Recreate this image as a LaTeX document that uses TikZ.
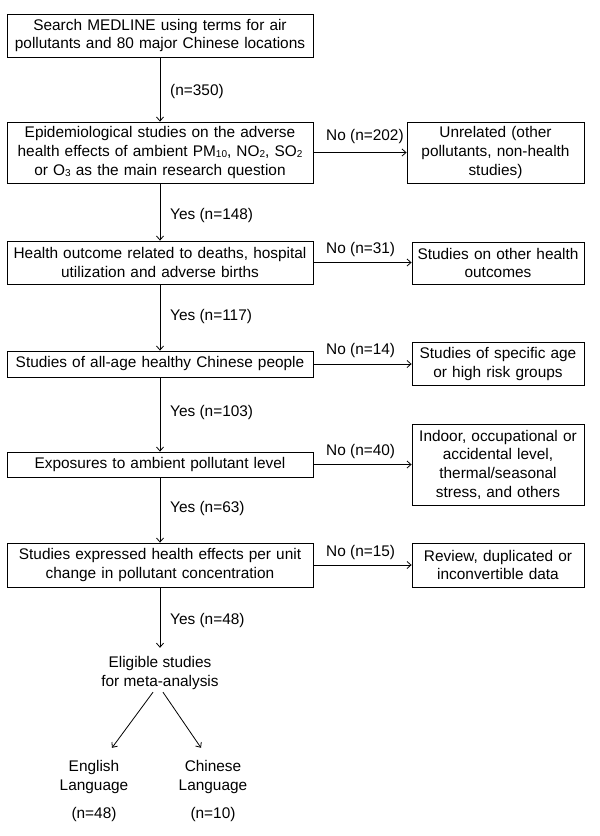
\documentclass[tikz,border=0pt]{standalone}
\usepackage{fontspec}
\setmainfont{Liberation Sans}
\usetikzlibrary{arrows.meta}
\newcommand\mysub[1]{\raisebox{-1pt}{\fontsize{10}{10}\selectfont #1}}
\tikzset{
  box/.style={draw, line width=0.8pt, align=center, inner sep=0pt},
  mainbox/.style={box, minimum width=306pt, text width=300pt},
  sidebox/.style={box, minimum width=172pt, text width=168pt},
  lbl/.style={anchor=west, inner sep=0pt},
  plain/.style={align=center, inner sep=0pt},
  arr/.style={line width=0.8pt, -{Straight Barb[length=4pt,width=7pt]}}
}
\begin{document}
\begin{tikzpicture}[x=1pt,y=-1pt,font=\fontsize{15.4}{18.7}\selectfont]
\useasboundingbox (0,0) rectangle (600,836);
% main column
\node[mainbox, minimum height=43pt] (b1) at (160,35.5) {Search MEDLINE using terms for air\\pollutants and 80 major Chinese locations};
\node[mainbox, minimum height=61pt] (b2) at (160,152.5) {Epidemiological studies on the adverse\\health effects of ambient PM\mysub{10}, NO\mysub{2}, SO\mysub{2}\\or O\mysub{3} as the main research question};
\node[mainbox, minimum height=43pt] (b3) at (160,262.5) {Health outcome related to deaths, hospital\\utilization and adverse births};
\node[mainbox, minimum height=26pt] (b4) at (160,364) {Studies of all-age healthy Chinese people};
\node[mainbox, minimum height=25pt] (b5) at (160,464.5) {Exposures to ambient pollutant level};
\node[mainbox, minimum height=44pt] (b6) at (160,565) {Studies expressed health effects per unit\\change in pollutant concentration};
\node[plain, minimum height=50pt] (elig) at (160,673) {Eligible studies\\for meta-analysis};
\node[plain, minimum height=58pt] (eng) at (94,777) {English\\Language};
\node[plain, minimum height=58pt] (chi) at (213,777) {Chinese\\Language};
\node[plain] (engn) at (94,815) {(n=48)};
\node[plain] (chin) at (213,815) {(n=10)};
% side column
\node[box, minimum width=177pt, text width=170pt, minimum height=61pt] (r2) at (495.5,152.5) {Unrelated (other\\pollutants, non-health\\studies)};
\node[sidebox, minimum height=42pt] (r3) at (498,263) {Studies on other health\\outcomes};
\node[sidebox, minimum height=43pt] (r4) at (498,364) {Studies of specific age\\or high risk groups};
\node[sidebox, minimum height=81pt] (r5) at (498,464.5) {Indoor, occupational or\\accidental level,\\thermal/seasonal\\stress, and others};
\node[sidebox, minimum height=44pt] (r6) at (498,565) {Review, duplicated or\\inconvertible data};
% vertical arrows
\draw[arr] (b1) -- (b2);
\draw[arr] (b2) -- (b3);
\draw[arr] (b3) -- (b4);
\draw[arr] (b4) -- (b5);
\draw[arr] (b5) -- (b6);
\draw[arr] (b6.south) -- (elig.north);
\draw[arr] ([xshift=-7pt,yshift=6pt]elig.south) -- ([xshift=18pt]eng.north);
\draw[arr] ([xshift=3pt,yshift=6pt]elig.south) -- ([xshift=-12pt]chi.north);
% horizontal arrows
\draw[arr] (b2.east) -- (r2.west);
\draw[arr] (b3.east) -- (r3.west |- b3.east);
\draw[arr] (b4.east) -- (r4.west |- b4.east);
\draw[arr] (b5.east) -- (r5.west |- b5.east);
\draw[arr] (b6.east) -- (r6.west |- b6.east);
% yes labels
\node[lbl] (y1) at (170,92) {(n=350)};
\node[lbl] (y2) at (170,216) {Yes (n=148)};
\node[lbl] (y3) at (170,317) {Yes (n=117)};
\node[lbl] (y4) at (170,413) {Yes (n=103)};
\node[lbl] (y5) at (170,509) {Yes (n=63)};
\node[lbl] (y6) at (170,621) {Yes (n=48)};
% no labels
\node[lbl] (n2) at (326,137) {No (n=202)};
\node[lbl] (n3) at (326,250) {No (n=31)};
\node[lbl] (n4) at (326,351) {No (n=14)};
\node[lbl] (n5) at (326,452) {No (n=40)};
\node[lbl] (n6) at (326,553) {No (n=15)};
\end{tikzpicture}
\end{document}
